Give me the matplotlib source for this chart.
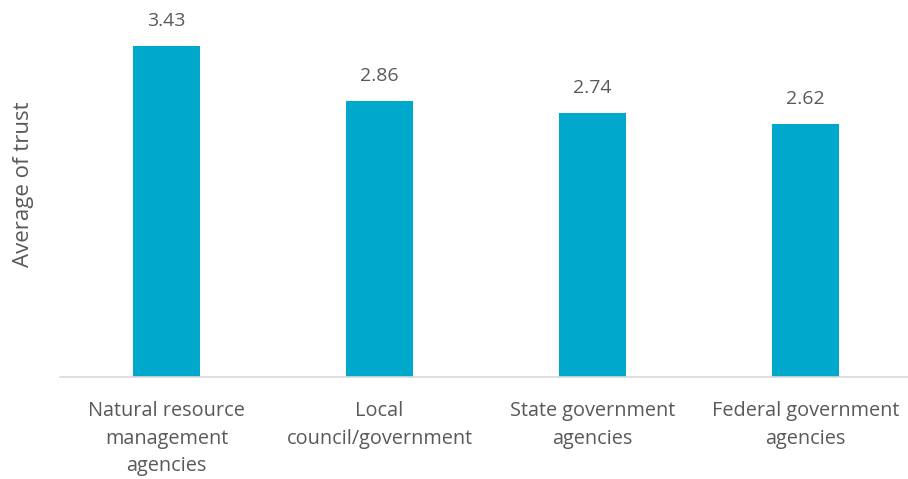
import matplotlib
matplotlib.use("Agg")
import matplotlib.pyplot as plt

categories = ["Natural resource\nmanagement\nagencies",
              "Local\ncouncil/government",
              "State government\nagencies",
              "Federal government\nagencies"]
values = [3.43, 2.86, 2.74, 2.62]
value_labels = ["3.43", "2.86", "2.74", "2.62"]

bar_color = "#00A8CC"
text_color = "#595959"
plt.rcParams["font.family"] = ["Open Sans", "DejaVu Sans"]

W, H = 908, 479
fig = plt.figure(figsize=(W / 100, H / 100), dpi=100)
ax = fig.add_axes([60 / W, 102 / H, 852 / W, 386 / H])

x = range(len(categories))
ax.bar(x, values, width=0.31, color=bar_color, zorder=2)
for xi, v, lab in zip(x, values, value_labels):
    ax.annotate(lab, (xi, v), xytext=(0, 11.5), textcoords="offset points",
                ha="center", va="bottom", fontsize=14, color=text_color)

ax.set_xlim(-0.5, len(categories) - 0.5)
ax.set_ylim(0, 4)
ax.set_xticks(list(x))
ax.set_xticklabels(categories, fontsize=14.3, color=text_color, linespacing=1.5)
ax.tick_params(axis="x", length=0, pad=17.5)
ax.set_yticks([])
ax.set_ylabel("Average of trust", fontsize=16, color=text_color)
ax.yaxis.set_label_coords(-26 / 852, 0.5)

for s in ("top", "right", "left"):
    ax.spines[s].set_visible(False)
ax.spines["bottom"].set_color("#d9d9d9")
ax.spines["bottom"].set_linewidth(1.2)

fig.savefig("out.png", dpi=100)
